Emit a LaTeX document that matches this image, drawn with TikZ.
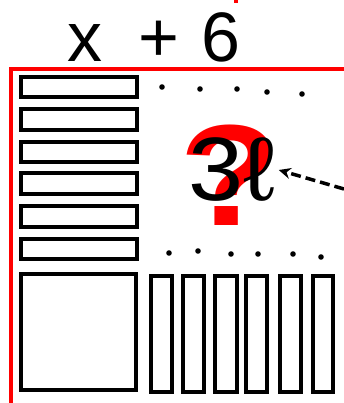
\documentclass[tikz,border=0pt]{standalone}
\usepackage{fontspec}
\setmainfont{Liberation Sans}
\usetikzlibrary{arrows.meta}
\tikzset{
    bar/.style={draw=black, line width=4pt},
    frame/.style={draw=red, line width=4pt},
    dot/.style={fill=black},
    pointer/.style={line width=3.5pt, dash pattern=on 10pt off 5pt, -{Stealth[length=12pt,width=11pt]}},
}
\begin{document}
\begin{tikzpicture}[x=1pt,y=-1pt]
        \useasboundingbox (0,0) rectangle (344,403);
        % red border
        \draw[frame] (10.5,403) -- (10.5,69.5) -- (344,69.5);
        \fill[red] (234,0) rectangle (238,3);
        % expression on top
        \node[inner sep=0pt] (expr) at (154,37) {\fontsize{70}{70}\selectfont x\hspace{36pt}+\hspace{22pt}6};

        % thin bars on the left
        \foreach \ya/\yb in {77/97, 109/130, 142/162, 173/194, 206/227, 239/259}
            \draw[bar] (21,\ya) rectangle (136.5,\yb);
        % big square
        \draw[bar] (20.5,274) rectangle (136,390);
        % tall bars at the bottom
        \foreach \xa/\xb in {151/172, 183/204, 215/237, 246/267, 280/301, 313/333}
            \draw[bar] (\xa,275.5) rectangle (\xb,391.5);

        % dots
        \foreach \p in {(162,87), (200,89), (237,89), (267,92), (302,94)}
            \fill[dot] \p circle (2.8pt);
        \foreach \p in {(169,253), (198,251), (231,254), (258,254), (293,254), (321,257)}
            \fill[dot] \p circle (2.8pt);

        % unknown square
        \node[inner sep=0pt, text=red, xscale=1.15, font=\bfseries\fontsize{144}{144}\selectfont] (qmark) at (230,175) {?};
        \node[inner sep=0pt, xscale=1.1, font=\fontsize{90}{90}\selectfont] (mass) at (232,170) {3ℓ};
        \coordinate (tail) at (344,189);
        \draw[pointer] (tail) -- ([xshift=3pt]mass.east);
\end{tikzpicture}
\end{document}
